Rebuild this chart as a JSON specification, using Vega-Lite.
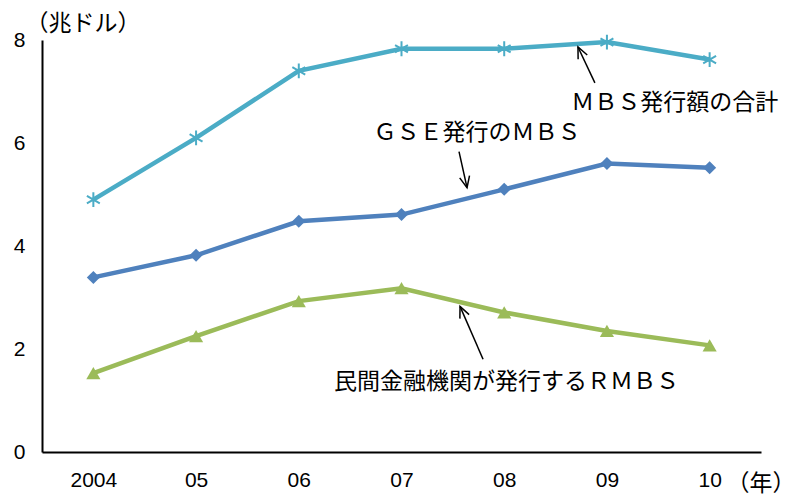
{
  "$schema": "https://vega.github.io/schema/vega-lite/v6.json",
  "autosize": "none",
  "width": 719,
  "height": 412,
  "padding": {"left": 42, "top": 40, "right": 37, "bottom": 44},
  "background": "white",
  "config": {"view": {"stroke": null}, "font": "Noto Sans CJK JP"},
  "datasets": {
    "series": [
      {"year": 2004, "series": "total", "value": 4.90},
      {"year": 2005, "series": "total", "value": 6.10},
      {"year": 2006, "series": "total", "value": 7.40},
      {"year": 2007, "series": "total", "value": 7.83},
      {"year": 2008, "series": "total", "value": 7.83},
      {"year": 2009, "series": "total", "value": 7.96},
      {"year": 2010, "series": "total", "value": 7.62},
      {"year": 2004, "series": "gse", "value": 3.39},
      {"year": 2005, "series": "gse", "value": 3.82},
      {"year": 2006, "series": "gse", "value": 4.48},
      {"year": 2007, "series": "gse", "value": 4.61},
      {"year": 2008, "series": "gse", "value": 5.10},
      {"year": 2009, "series": "gse", "value": 5.60},
      {"year": 2010, "series": "gse", "value": 5.52},
      {"year": 2004, "series": "private", "value": 1.53},
      {"year": 2005, "series": "private", "value": 2.25},
      {"year": 2006, "series": "private", "value": 2.93},
      {"year": 2007, "series": "private", "value": 3.18},
      {"year": 2008, "series": "private", "value": 2.71},
      {"year": 2009, "series": "private", "value": 2.35},
      {"year": 2010, "series": "private", "value": 2.07}
    ],
    "labels": [
      {"x": 2009.66, "y": 6.78, "label": "ＭＢＳ発行額の合計"},
      {"x": 2007.735, "y": 6.20, "label": "ＧＳＥ発行のＭＢＳ"},
      {"x": 2008.022, "y": 1.356, "label": "民間金融機関が発行するＲＭＢＳ"}
    ],
    "arrows": [
      {"x": 2008.883, "y": 7.167, "x2": 2008.718, "y2": 7.864, "angle": -25},
      {"x": 2007.560, "y": 5.831, "x2": 2007.638, "y2": 5.133, "angle": 167.5},
      {"x": 2007.794, "y": 1.801, "x2": 2007.570, "y2": 2.828, "angle": -23.5}
    ]
  },
  "layer": [
    {
      "data": {"name": "series"},
      "mark": {"type": "line", "strokeWidth": 4.5},
      "encoding": {
        "x": {
          "field": "year", "type": "quantitative",
          "scale": {"domain": [2003.5, 2010.5], "nice": false, "zero": false},
          "axis": {
            "values": [2004, 2005, 2006, 2007, 2008, 2009, 2010],
            "labelExpr": "datum.value == 2004 ? '2004' : substring(toString(datum.value), 2)",
            "grid": false, "ticks": false,
            "domainColor": "#000000", "domainWidth": 2,
            "labelFont": "Liberation Sans", "labelFontSize": 21, "labelColor": "#000000",
            "labelPadding": 17,
            "title": "（年）", "titleFont": "Noto Sans CJK JP", "titleFontSize": 23,
            "titleFontWeight": "normal", "titleColor": "#000000",
            "titleAnchor": null, "titleAlign": "left", "titleBaseline": "middle",
            "titleX": 684, "titleY": 31
          }
        },
        "y": {
          "field": "value", "type": "quantitative",
          "scale": {"domain": [0, 8], "nice": false},
          "axis": {
            "values": [0, 2, 4, 6, 8],
            "grid": false, "ticks": false,
            "domainColor": "#000000", "domainWidth": 2,
            "labelFont": "Liberation Sans", "labelFontSize": 21, "labelColor": "#000000",
            "labelPadding": 17,
            "title": "（兆ドル）", "titleFont": "Noto Sans CJK JP", "titleFontSize": 23,
            "titleFontWeight": "normal", "titleColor": "#000000",
            "titleAngle": 0, "titleAnchor": null, "titleAlign": "left", "titleBaseline": "middle",
            "titleX": -17, "titleY": -17
          }
        },
        "color": {
          "field": "series", "type": "nominal",
          "scale": {"domain": ["total", "gse", "private"], "range": ["#4BACC6", "#4F81BD", "#9BBB59"]},
          "legend": null
        }
      }
    },
    {
      "data": {"name": "series"},
      "transform": [{"filter": "datum.series == 'total'"}],
      "mark": {"type": "point", "shape": "M0,-1L0,1M-0.87,-0.5L0.87,0.5M-0.87,0.5L0.87,-0.5", "filled": false, "stroke": "#4BACC6", "strokeWidth": 2, "size": 220, "opacity": 1},
      "encoding": {
        "x": {"field": "year", "type": "quantitative"},
        "y": {"field": "value", "type": "quantitative"}
      }
    },
    {
      "data": {"name": "series"},
      "transform": [{"filter": "datum.series == 'gse'"}],
      "mark": {"type": "point", "shape": "diamond", "filled": true, "color": "#4F81BD", "size": 170, "opacity": 1},
      "encoding": {
        "x": {"field": "year", "type": "quantitative"},
        "y": {"field": "value", "type": "quantitative"}
      }
    },
    {
      "data": {"name": "series"},
      "transform": [{"filter": "datum.series == 'private'"}],
      "mark": {"type": "point", "shape": "triangle-up", "filled": true, "color": "#9BBB59", "size": 200, "opacity": 1},
      "encoding": {
        "x": {"field": "year", "type": "quantitative"},
        "y": {"field": "value", "type": "quantitative"}
      }
    },
    {
      "data": {"name": "arrows"},
      "mark": {"type": "rule", "color": "#000000", "strokeWidth": 1.5},
      "encoding": {
        "x": {"field": "x", "type": "quantitative"},
        "y": {"field": "y", "type": "quantitative"},
        "x2": {"field": "x2"},
        "y2": {"field": "y2"}
      }
    },
    {
      "data": {"name": "arrows"},
      "mark": {"type": "point", "shape": "M-0.45,1L0,0L0.45,1", "filled": false, "stroke": "#000000", "strokeWidth": 1.5, "size": 500, "opacity": 1},
      "encoding": {
        "x": {"field": "x2", "type": "quantitative"},
        "y": {"field": "y2", "type": "quantitative"},
        "angle": {"field": "angle", "type": "quantitative", "scale": null}
      }
    },
    {
      "data": {"name": "labels"},
      "mark": {"type": "text", "font": "Noto Sans CJK JP", "fontSize": 23, "color": "#000000", "align": "center", "baseline": "middle"},
      "encoding": {
        "x": {"field": "x", "type": "quantitative"},
        "y": {"field": "y", "type": "quantitative"},
        "text": {"field": "label"}
      }
    }
  ]
}
